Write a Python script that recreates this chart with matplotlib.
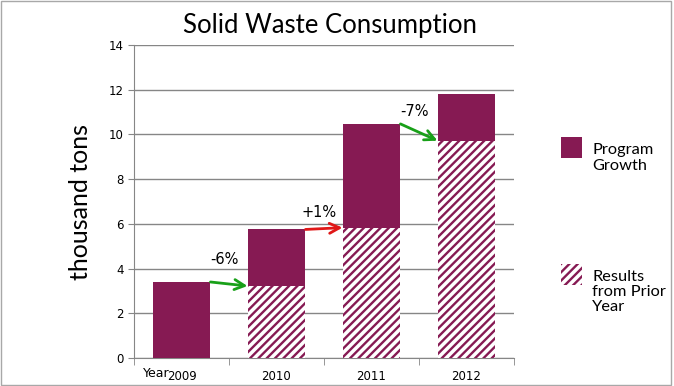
import matplotlib
matplotlib.use("Agg")
import matplotlib.pyplot as plt
from matplotlib.patches import Rectangle

years = ["2009", "2010", "2011", "2012"]
prior_year = [0.0, 3.22, 5.83, 9.72]      # hatched part
program_growth = [3.40, 2.53, 4.64, 2.09]  # solid part on top
change_labels = ["-6%", "+1%", "-7%"]
change_colors = ["#18a018", "#e01818", "#18a018"]

maroon = "#861a53"
plt.rcParams["hatch.linewidth"] = 1.7
plt.rcParams["hatch.color"] = maroon

fig = plt.figure(figsize=(6.74, 3.86), dpi=100)
ax = fig.add_axes([134 / 674, 28 / 386, 380 / 674, 313 / 386])

x = list(range(len(years)))
w = 0.61
ax.bar(x, prior_year, width=w, color="white", edgecolor=maroon, hatch="////", linewidth=0, zorder=3)
ax.bar(x, program_growth, width=w, bottom=prior_year, color=maroon, linewidth=0, zorder=3)

totals = [p + g for p, g in zip(prior_year, program_growth)]
offsets = [1.0, 0.75, 0.55]
for i in range(len(years) - 1):
    start = (i + w / 2, totals[i])
    end = (i + 1 - w / 2, prior_year[i + 1])
    ax.annotate("", xy=end, xytext=start,
                arrowprops=dict(arrowstyle="->", color=change_colors[i], lw=2, mutation_scale=18,
                                shrinkA=0, shrinkB=0), zorder=5)
    ax.text(i + 0.45, start[1] + offsets[i], change_labels[i], ha="center", va="center",
            fontsize=10.5, family="DejaVu Sans")

ax.set_xlim(-0.5, 3.5)
ax.set_ylim(0, 14)
ax.set_yticks(range(0, 15, 2))
ax.set_xticks(x)
ax.set_xticklabels(years)
ax.set_xticks([-0.5, 0.5, 1.5, 2.5, 3.5], minor=True)
ax.tick_params(axis="x", which="major", length=0, labelsize=8.5, pad=9)
ax.tick_params(axis="x", which="minor", length=5, color="#868686")
ax.tick_params(axis="y", length=4, color="#868686", labelsize=8.5)
ax.yaxis.grid(True, color="#868686", linewidth=1)
ax.set_axisbelow(True)
for s in ["top", "right"]:
    ax.spines[s].set_visible(False)
for s in ["left", "bottom"]:
    ax.spines[s].set_color("#868686")
ax.text(-0.27, -0.7, "Year", fontsize=9, ha="center", va="center", transform=ax.transData, clip_on=False)

ax.set_ylabel("thousand tons", fontsize=18, family="Lato", labelpad=12)
fig.text(0.49, 0.935, "Solid Waste Consumption", fontsize=18.5, family="Lato", ha="center", va="center")

# legend drawn by hand
fig.patches.append(Rectangle((561 / 674, 1 - 158 / 386), 21 / 674, 21 / 386, transform=fig.transFigure,
                             facecolor=maroon, edgecolor="none"))
fig.patches.append(Rectangle((561 / 674, 1 - 285 / 386), 21 / 674, 21 / 386, transform=fig.transFigure,
                             facecolor="white", edgecolor=maroon, hatch="////", linewidth=0))
fig.text(592 / 674, 1 - 158 / 386, "Program\nGrowth", fontsize=11.8, family="Lato", va="center", linespacing=1.1)
fig.text(592 / 674, 1 - 292 / 386, "Results\nfrom Prior\nYear", fontsize=11.8, family="Lato", va="center",
         linespacing=1.1)

fig.patches.append(Rectangle((0.002, 0.003), 0.993, 0.994, transform=fig.transFigure,
                             facecolor="none", edgecolor="#a8a8a8", linewidth=1))
fig.savefig("out.png", dpi=100)
